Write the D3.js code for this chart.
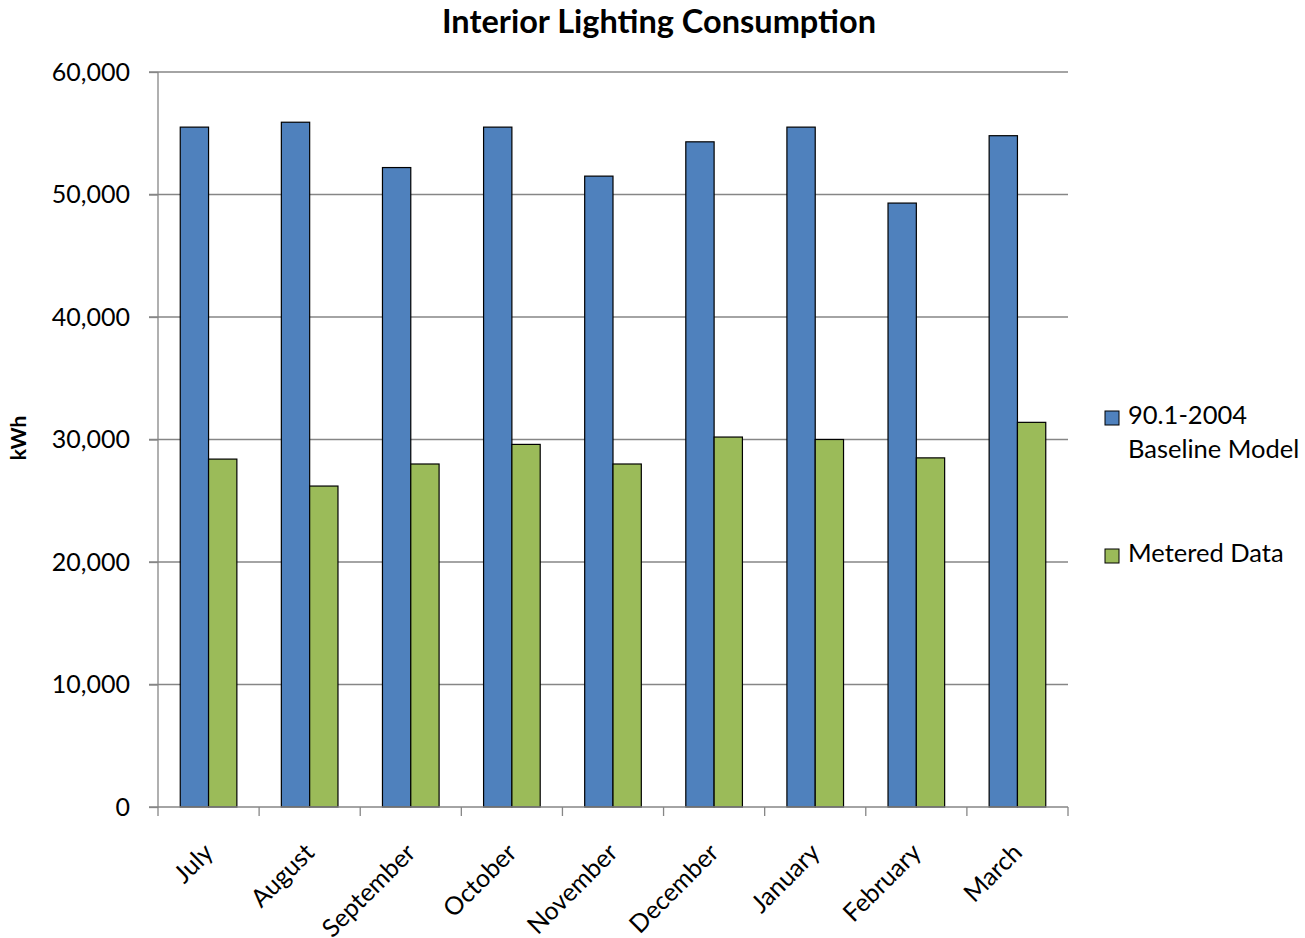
<!DOCTYPE html>
<html>
<head>
<meta charset="utf-8">
<script src="https://cdn.jsdelivr.net/npm/d3@7"></script>
<style>
  body { margin: 0; background: #fff; }
  text { font-family: Lato, "Open Sans", sans-serif; fill: #000; }
</style>
</head>
<body>
<svg id="chart" width="1305" height="938"></svg>
<script>
// Monthly interior lighting energy, kWh
const months = ["July", "August", "September", "October", "November", "December", "January", "February", "March"];
const baselineModel = [55500, 55900, 52200, 55500, 51500, 54300, 55500, 49300, 54800];
const meteredData = [28400, 26200, 28000, 29600, 28000, 30200, 30000, 28500, 31400];
const seriesNames = ["90.1-2004 Baseline Model", "Metered Data"];
const yTicks = [0, 10000, 20000, 30000, 40000, 50000, 60000];

const colors = ["#4F81BD", "#9BBB59"];
const svg = d3.select("#chart");
const plot = { left: 158, right: 1068, top: 72, bottom: 807 };

const x = d3.scaleBand().domain(months).range([plot.left, plot.right]).paddingInner(0.44).paddingOuter(0.22);
const xSub = d3.scaleBand().domain([0, 1]).range([0, x.bandwidth()]);
const y = d3.scaleLinear().domain([0, 60000]).range([plot.bottom, plot.top]);

// Horizontal gridlines
svg.append("g").selectAll("line").data(yTicks.filter(d => d > 0)).join("line")
  .attr("x1", plot.left - 9).attr("x2", plot.right)
  .attr("y1", d => y(d)).attr("y2", d => y(d))
  .attr("stroke", "#868686").attr("stroke-width", 1.3);

// Y axis
const yAxis = svg.append("g").attr("transform", `translate(${plot.left},0)`)
  .call(d3.axisLeft(y).tickValues(yTicks).tickSize(9).tickPadding(19).tickFormat(d3.format(",")));
yAxis.selectAll("path, line").attr("stroke", "#868686").attr("stroke-width", 1.3);
yAxis.select(".domain").attr("d", `M0,${plot.top}V${plot.bottom}`);
yAxis.selectAll("text").style("font-size", "25px").attr("font-family", null);

// Bars
const series = [baselineModel, meteredData];
series.forEach((vals, s) => {
  svg.append("g").selectAll("rect").data(months).join("rect")
    .attr("x", (m) => x(m) + xSub(s))
    .attr("width", xSub.bandwidth())
    .attr("y", (m, i) => y(vals[i]))
    .attr("height", (m, i) => y(0) - y(vals[i]))
    .attr("fill", colors[s])
    .attr("stroke", "#000").attr("stroke-width", 1.2);
});

// X axis line with category boundary ticks
const xb = svg.append("g");
xb.append("line").attr("x1", plot.left - 9).attr("x2", plot.right)
  .attr("y1", plot.bottom).attr("y2", plot.bottom)
  .attr("stroke", "#868686").attr("stroke-width", 1.3);
xb.selectAll(".tk").data(d3.range(months.length + 1)).join("line")
  .attr("x1", i => plot.left + i * x.step())
  .attr("x2", i => plot.left + i * x.step())
  .attr("y1", plot.bottom).attr("y2", plot.bottom + 9)
  .attr("stroke", "#868686").attr("stroke-width", 1.3);

// Rotated month labels
svg.append("g").selectAll("text").data(months).join("text")
  .attr("transform", m => `translate(${x(m) + x.bandwidth() / 2},${plot.bottom + 41}) rotate(-45)`)
  .attr("text-anchor", "end")
  .attr("dy", "0.35em")
  .style("font-size", "25px")
  .text(m => m);

// Title
svg.append("text").attr("x", 659).attr("y", 33).attr("text-anchor", "middle")
  .style("font-size", "32.5px").style("font-weight", "bold")
  .text("Interior Lighting Consumption");

// Y axis title
svg.append("text").attr("transform", "translate(26,438) rotate(-90)")
  .attr("text-anchor", "middle")
  .style("font-size", "21px").style("font-weight", "bold")
  .text("kWh");

// Legend
const legend = svg.append("g");
const legendItems = [
  { lines: ["90.1-2004", "Baseline Model"], y: 418 },
  { lines: ["Metered Data"], y: 556 }
];
legendItems.forEach((item, i) => {
  legend.append("rect").attr("x", 1105).attr("y", item.y - 7).attr("width", 14).attr("height", 14)
    .attr("fill", colors[i]).attr("stroke", "#000").attr("stroke-width", 1);
  item.lines.forEach((ln, k) => {
    legend.append("text").attr("x", 1128).attr("y", item.y + 6 + k * 34)
      .style("font-size", "25.5px").text(ln);
  });
});
</script>
</body>
</html>
